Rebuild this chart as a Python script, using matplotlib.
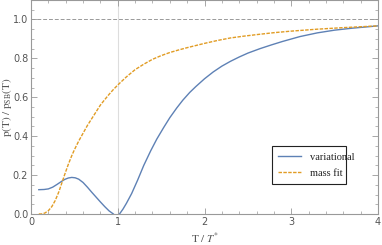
import numpy as np
import matplotlib
matplotlib.use('Agg')
import matplotlib.pyplot as plt
from matplotlib.ticker import MultipleLocator

plt.rcParams['mathtext.fontset'] = 'stix'

# values
var_t = [0.09, 0.15, 0.2, 0.25, 0.3, 0.35, 0.39, 0.43, 0.47, 0.51, 0.55, 0.6, 0.65, 0.7,
         0.75, 0.8, 0.85, 0.9, 0.95, 0.985, 1.02, 1.06, 1.1, 1.16, 1.23, 1.3, 1.38, 1.45,
         1.53, 1.6, 1.68, 1.75, 1.83, 1.9, 2.0, 2.1, 2.2, 2.3, 2.4, 2.5, 2.64, 2.77, 2.9,
         3.1, 3.3, 3.5, 3.7, 3.85, 4.0]
var_p = [0.125, 0.126, 0.129, 0.138, 0.152, 0.167, 0.178, 0.185, 0.188, 0.186, 0.179,
         0.162, 0.138, 0.112, 0.087, 0.062, 0.038, 0.016, 0.0, -0.02, 0.0, 0.025, 0.055,
         0.105, 0.175, 0.25, 0.325, 0.385, 0.445, 0.495, 0.545, 0.585, 0.625, 0.655, 0.695,
         0.73, 0.76, 0.785, 0.807, 0.827, 0.85, 0.869, 0.887, 0.912, 0.931, 0.945,
         0.955, 0.961, 0.967]

fit_t = [0.09, 0.12, 0.16, 0.2, 0.24, 0.28, 0.32, 0.35, 0.39, 0.43, 0.47, 0.5, 0.55, 0.6,
         0.65, 0.7, 0.75, 0.8, 0.85, 0.9, 0.95, 1.0, 1.1, 1.2, 1.3, 1.4, 1.5, 1.6, 1.7,
         1.8, 1.9, 2.0, 2.15, 2.3, 2.45, 2.6, 2.8, 3.0, 3.3, 3.6, 4.0]
fit_p = [0.0, 0.0, 0.005, 0.017, 0.038, 0.07, 0.113, 0.152, 0.205, 0.255, 0.3, 0.33,
         0.375, 0.415, 0.455, 0.49, 0.525, 0.56, 0.588, 0.615, 0.64, 0.663, 0.705, 0.742,
         0.77, 0.795, 0.814, 0.83, 0.843, 0.855, 0.866, 0.877, 0.892, 0.905, 0.914, 0.922,
         0.932, 0.94, 0.95, 0.958, 0.967]

blue = '#5e81b5'
orange = '#e19c24'
gray = '#555555'

fig = plt.figure(figsize=(3.82, 2.45), dpi=100)
ax = fig.add_axes([31/382, 31/245, 347/382, 214/245])

ax.axhline(1.0, color='#999999', lw=0.7, ls=(0, (4, 2)), zorder=1)
ax.axvline(1.0, color='#dddddd', lw=0.8, zorder=1)

ax.plot(var_t, var_p, color=blue, lw=1.0, label='variational', zorder=3)
ax.plot(fit_t, fit_p, color=orange, lw=1.0, ls=(0, (2.5, 1)), label='mass fit', zorder=3)

ax.set_xlim(0, 4)
ax.set_ylim(0, 1.1)
ax.xaxis.set_major_locator(MultipleLocator(1))
ax.xaxis.set_minor_locator(MultipleLocator(0.2))
ax.yaxis.set_major_locator(MultipleLocator(0.2))
ax.yaxis.set_minor_locator(MultipleLocator(0.05))
ax.yaxis.set_major_formatter(matplotlib.ticker.FormatStrFormatter('%.1f'))

ax.tick_params(which='both', direction='in', top=True, right=True,
               colors='#999999', labelcolor=gray, labelsize=7, pad=2)
ax.tick_params(which='major', length=4, width=0.6)
ax.tick_params(which='minor', length=2, width=0.5)
for s in ax.spines.values():
    s.set_color('#999999')
    s.set_linewidth(0.8)

ax.set_xlabel(r'$\mathrm{T\ /\ }T^{*}$', color=gray, fontsize=8, labelpad=3)
ax.set_ylabel(r'$\mathrm{p(T)\ /\ p_{SB}(T)}$', color=gray, fontsize=8, labelpad=-1)

leg = ax.legend(loc='lower left', bbox_to_anchor=(0.68, 0.117, 0.242, 0.168),
                mode='expand', frameon=True, fancybox=False, edgecolor='#222222',
                framealpha=1, borderpad=0.6, handlelength=2.2, labelspacing=0.6,
                prop={'family': 'Liberation Serif', 'size': 7.5})
leg.get_frame().set_linewidth(0.8)
for t in leg.get_texts():
    t.set_color('#222222')

fig.savefig('out.png', dpi=100)
